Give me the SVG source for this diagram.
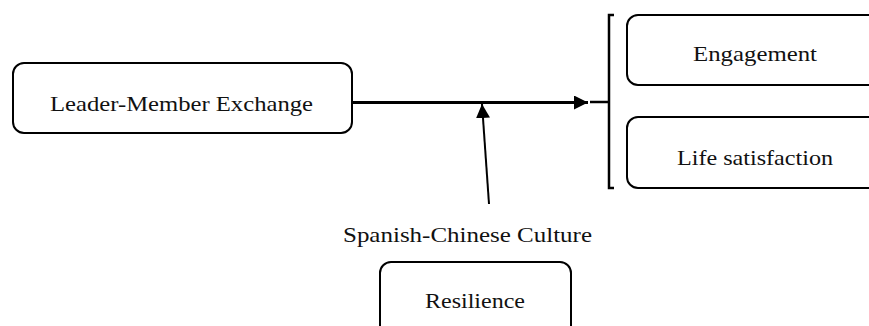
<svg xmlns="http://www.w3.org/2000/svg" width="869" height="326" viewBox="0 0 869 326">
<defs>
<style>
.box{fill:#fff;stroke:#000;stroke-width:2}
.t{font-family:"Liberation Serif","DejaVu Serif",serif;font-size:21px;fill:#111}
.ln{stroke:#000;fill:none}
</style>
<marker id="ah" viewBox="0 0 10 10" refX="10" refY="5" markerWidth="14" markerHeight="14" markerUnits="userSpaceOnUse" orient="auto">
<path d="M0,0 L10,5 L0,10 Z" fill="#000"/>
</marker>
</defs>
<rect width="869" height="326" fill="#fff"/>
<g id="lmx">
<rect class="box" x="13" y="63" width="339" height="70" rx="11"/>
<text class="t" x="50" y="111" textLength="263" lengthAdjust="spacingAndGlyphs">Leader-Member Exchange</text>
</g>
<g id="engagement">
<rect class="box" x="627" y="15" width="270" height="70" rx="11"/>
<text class="t" x="693" y="61" textLength="124" lengthAdjust="spacingAndGlyphs">Engagement</text>
</g>
<g id="life">
<rect class="box" x="627" y="117" width="270" height="71" rx="11"/>
<text class="t" x="677" y="165" textLength="156" lengthAdjust="spacingAndGlyphs">Life satisfaction</text>
</g>
<g id="culture">
<text class="t" x="343" y="242" textLength="249" lengthAdjust="spacingAndGlyphs">Spanish-Chinese Culture</text>
</g>
<g id="resilience">
<rect class="box" x="380" y="262" width="191" height="90" rx="11"/>
<text class="t" x="425" y="308" textLength="100" lengthAdjust="spacingAndGlyphs">Resilience</text>
</g>
<g id="connectors">
<line class="ln" x1="352" y1="102.5" x2="588" y2="102.5" stroke-width="3" marker-end="url(#ah)"/>
<line class="ln" x1="590" y1="102" x2="609" y2="102" stroke-width="2.5"/>
<path class="ln" d="M614,15 H609 V188 H614" stroke-width="2.5"/>
<line class="ln" x1="489" y1="204" x2="482" y2="104" stroke-width="2" marker-end="url(#ah)"/>
</g>
</svg>
